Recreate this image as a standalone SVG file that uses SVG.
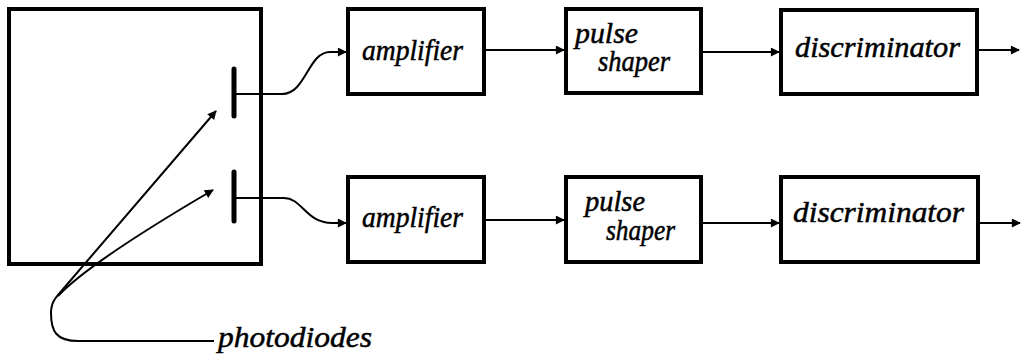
<svg xmlns="http://www.w3.org/2000/svg" width="1022" height="361" viewBox="0 0 1022 361">
<style>
.box{fill:#fff;stroke:#000;stroke-width:4}
.diode{stroke:#000;stroke-width:5;stroke-linecap:round}
.wire{fill:none;stroke:#000;stroke-width:2}
.lbl{font-family:"Liberation Serif","DejaVu Serif",serif;font-style:italic;font-size:30px;fill:#000;stroke:#000;stroke-width:0.5}
</style>
<defs>
<marker id="ah" viewBox="0 0 10 10" refX="9" refY="5" markerWidth="13" markerHeight="9" markerUnits="userSpaceOnUse" orient="auto">
<path d="M0,0 L10,5 L0,10 z" fill="#000"/>
</marker>
</defs>
<rect width="1022" height="361" fill="#fff"/>
<g id="housing">
<rect class="box" x="9" y="9" width="252" height="255"/>
<line class="diode" x1="234" y1="69" x2="234" y2="116"/>
<line class="diode" x1="234" y1="172" x2="234" y2="221"/>
</g>
<g id="amp1"><rect class="box" x="348" y="9" width="136" height="85"/><text class="lbl" x="362" y="60" textLength="101" lengthAdjust="spacingAndGlyphs">amplifier</text></g>
<g id="ps1"><rect class="box" x="566" y="9" width="135" height="84"/><text class="lbl" x="575" y="43" textLength="63" lengthAdjust="spacingAndGlyphs">pulse</text><text class="lbl" x="598" y="71" textLength="72" lengthAdjust="spacingAndGlyphs">shaper</text></g>
<g id="disc1"><rect class="box" x="781" y="10" width="196" height="84"/><text class="lbl" x="795" y="57" textLength="165" lengthAdjust="spacingAndGlyphs">discriminator</text></g>
<g id="amp2"><rect class="box" x="348" y="177" width="136" height="85"/><text class="lbl" x="362" y="227" textLength="101" lengthAdjust="spacingAndGlyphs">amplifier</text></g>
<g id="ps2"><rect class="box" x="566" y="177" width="135" height="85"/><text class="lbl" x="585" y="211" textLength="60" lengthAdjust="spacingAndGlyphs">pulse</text><text class="lbl" x="606" y="240" textLength="69" lengthAdjust="spacingAndGlyphs">shaper</text></g>
<g id="disc2"><rect class="box" x="781" y="177" width="197" height="85"/><text class="lbl" x="793" y="222" textLength="171" lengthAdjust="spacingAndGlyphs">discriminator</text></g>
<g id="label"><text class="lbl" x="218" y="347" textLength="154" lengthAdjust="spacingAndGlyphs">photodiodes</text></g>
<g id="connectors">
<path class="wire" d="M236,94 L282,94 C306,94 308,52 330,52 L346,52" marker-end="url(#ah)"/>
<path class="wire" d="M236,198 L284,198 C302,198 306,223 332,223 L346,223" marker-end="url(#ah)"/>
<path class="wire" d="M485,50 L564,50" marker-end="url(#ah)"/>
<path class="wire" d="M702,52 L779,52" marker-end="url(#ah)"/>
<path class="wire" d="M978,50 L1019,50" marker-end="url(#ah)"/>
<path class="wire" d="M485,220 L564,220" marker-end="url(#ah)"/>
<path class="wire" d="M702,223 L779,223" marker-end="url(#ah)"/>
<path class="wire" d="M979,223 L1020,223" marker-end="url(#ah)"/>
<path class="wire" d="M214,341 L78,341 C56,341 51,331 51,313 C51,302 56,297 64,288 L216,111" marker-end="url(#ah)"/>
<path class="wire" d="M58,296 Q90,262 213,190" marker-end="url(#ah)"/>
</g>
</svg>
